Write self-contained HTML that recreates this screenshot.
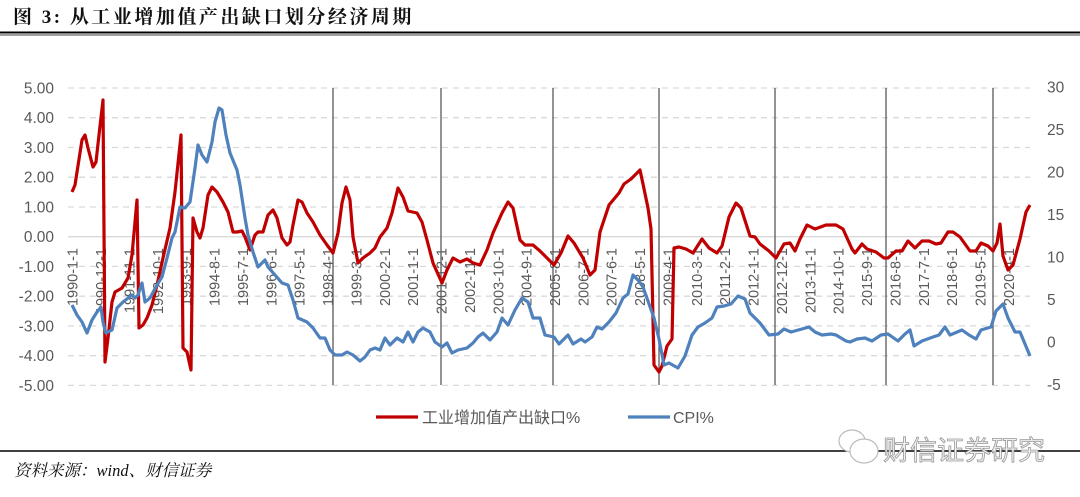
<!DOCTYPE html>
<html><head><meta charset="utf-8"><style>
html,body{margin:0;padding:0;background:#fff;}
svg{display:block;}
</style></head><body>
<svg width="1080" height="497" viewBox="0 0 1080 497" xmlns="http://www.w3.org/2000/svg">
<rect width="1080" height="497" fill="#fff"/>
<text x="13" y="23" font-family="Liberation Serif, Noto Serif CJK SC, serif" font-weight="bold" font-size="19" letter-spacing="2.5" fill="#111">图 3:  从工业增加值产出缺口划分经济周期</text>
<line x1="0" y1="32.5" x2="1080" y2="32.5" stroke="#000" stroke-width="2"/>
<line x1="0" y1="35" x2="1080" y2="35" stroke="#000" stroke-width="0.7"/>
<g stroke="#d9d9d9" stroke-width="1.3" stroke-dasharray="6,5">
<line x1="68" y1="88" x2="1030" y2="88"/><line x1="68" y1="117.7" x2="1030" y2="117.7"/>
<line x1="68" y1="147.5" x2="1030" y2="147.5"/><line x1="68" y1="177.2" x2="1030" y2="177.2"/>
<line x1="68" y1="207" x2="1030" y2="207"/>
<line x1="68" y1="266.4" x2="1030" y2="266.4"/><line x1="68" y1="296.2" x2="1030" y2="296.2"/>
<line x1="68" y1="325.9" x2="1030" y2="325.9"/><line x1="68" y1="355.7" x2="1030" y2="355.7"/>
<line x1="68" y1="385.4" x2="1030" y2="385.4"/>
</g>
<line x1="68" y1="236.7" x2="1030" y2="236.7" stroke="#d9d9d9" stroke-width="1.3"/>
<g stroke="#595959" stroke-width="1.3">
<line x1="333" y1="88" x2="333" y2="385"/><line x1="441" y1="88" x2="441" y2="385"/>
<line x1="553" y1="88" x2="553" y2="385"/><line x1="659" y1="88" x2="659" y2="385"/>
<line x1="775" y1="88" x2="775" y2="385"/><line x1="886" y1="88" x2="886" y2="385"/>
<line x1="993" y1="88" x2="993" y2="385"/>
</g>
<g font-family="Liberation Sans, sans-serif" font-size="15.5" fill="#595959" text-anchor="end">
<text x="54" y="93.5">5.00</text><text x="54" y="123.2">4.00</text><text x="54" y="153">3.00</text>
<text x="54" y="182.7">2.00</text><text x="54" y="212.5">1.00</text><text x="54" y="242.2">0.00</text>
<text x="54" y="271.9">-1.00</text><text x="54" y="301.7">-2.00</text><text x="54" y="331.4">-3.00</text>
<text x="54" y="361.2">-4.00</text><text x="54" y="390.9">-5.00</text>
</g>
<g font-family="Liberation Sans, sans-serif" font-size="15.5" fill="#595959" text-anchor="start">
<text x="1047" y="92.5">30</text><text x="1047" y="135">25</text><text x="1047" y="177.5">20</text>
<text x="1047" y="220">15</text><text x="1047" y="262.5">10</text><text x="1047" y="305">5</text>
<text x="1047" y="347.5">0</text><text x="1047" y="390">-5</text>
</g>
<g id="xl" font-family="Liberation Sans, sans-serif" font-size="14.5" fill="#595959" text-anchor="end"></g>
<polyline fill="none" stroke="#c00000" stroke-width="3.2" stroke-linejoin="round" points="72,192 75,185 82,140 85,135 88,148 93,167 96,162 99,135 103,100 105,362 108,338 112,302 115,292 122,288 128,278 132,255 137,200 139,328 143,325 147,318 152,305 157,285 163,258 170,228 175,192 181,135 183,348 187,352 191,370 193,218 197,232 200,238 203,228 208,195 212,187 217,192 223,202 228,212 233,232 237,232 242,231 245,237 250,250 255,235 258,232 263,232 268,215 273,210 277,218 282,238 287,245 290,242 293,225 298,200 302,202 307,213 313,222 320,235 327,245 333,253 338,233 342,203 346,187 350,200 353,237 358,263 363,258 370,253 375,248 380,237 387,228 392,213 398,188 403,197 408,211 417,213 422,222 427,240 433,263 442,283 447,270 453,258 460,262 467,259 473,263 480,265 487,250 493,233 502,213 508,202 513,208 520,240 525,245 533,245 540,251 554,265 561,253 568,236 574,243 583,258 590,275 595,270 600,232 609,205 619,193 624,184 631,179 640,170 643,184 648,208 651,229 654,365 659,372 662,366 667,346 672,339 674,248 679,247 686,249 693,253 702,239 709,248 717,253 722,246 729,217 736,203 741,208 750,236 755,237 760,244 769,251 776,258 784,244 790,243 795,251 800,239 807,225 815,229 826,225 836,225 843,229 852,249 855,253 862,244 867,249 876,252 884,258 888,258 896,251 902,251 908,241 915,248 922,241 929,241 936,244 941,243 948,232 953,232 960,237 970,251 976,251 981,243 988,246 993,251 997,243 1000,224 1003,256 1008,270 1013,265 1020,239 1026,212 1030,205"/>
<polyline fill="none" stroke="#4f81bd" stroke-width="3.2" stroke-linejoin="round" points="72,305 77,315 82,322 87,333 92,320 97,312 101,307 103,322 106,333 112,330 117,308 123,302 132,295 135,298 138,295 142,283 145,302 150,298 157,285 162,277 167,258 172,238 175,232 180,207 185,208 190,202 195,168 198,145 202,155 207,162 212,142 215,122 219,108 222,110 226,135 230,153 237,170 240,185 245,218 248,235 253,252 258,267 265,260 268,267 275,275 282,283 288,285 293,300 298,318 307,322 313,328 320,338 325,338 330,350 335,355 342,355 347,352 353,355 360,361 365,357 370,350 375,348 380,350 385,338 390,345 397,338 403,342 408,332 413,342 418,332 423,328 430,332 435,342 442,347 447,343 452,353 458,350 467,348 473,343 478,337 483,333 490,340 497,332 502,318 508,325 515,310 522,298 528,302 533,318 540,318 542,325 545,335 554,337 559,344 568,335 573,344 581,339 585,342 592,337 597,327 602,329 609,322 616,313 623,298 628,294 633,275 638,280 643,287 648,301 654,318 659,339 664,365 669,363 678,368 685,356 692,335 698,327 705,323 712,318 717,307 724,306 731,304 738,296 745,299 750,313 755,318 760,323 769,335 778,334 784,329 791,332 802,329 809,327 815,332 822,335 831,334 836,335 846,341 850,342 857,339 865,338 872,341 881,335 888,334 898,341 905,334 910,330 914,346 922,341 933,337 939,335 945,327 950,335 962,330 969,335 976,339 981,330 991,327 996,311 1003,304 1008,318 1015,332 1020,332 1030,356"/>
<line x1="376" y1="417" x2="418" y2="417" stroke="#c00000" stroke-width="3.2"/>
<text x="422" y="423" font-family="Liberation Sans, Noto Sans CJK SC, sans-serif" font-size="16" fill="#595959">工业增加值产出缺口%</text>
<line x1="628" y1="417" x2="670" y2="417" stroke="#4f81bd" stroke-width="3.2"/>
<text x="673" y="423" font-family="Liberation Sans, Noto Sans CJK SC, sans-serif" font-size="16" fill="#595959">CPI%</text>
<line x1="0" y1="451" x2="1080" y2="451" stroke="#000" stroke-width="1.5"/>
<text x="14" y="476" font-family="Liberation Serif, Noto Serif CJK SC, serif" font-style="italic" font-size="16.5" fill="#111">资料来源：wind、财信证券</text>
<g fill="#fff" stroke="#bbb" stroke-width="1.2">
<ellipse cx="852" cy="441" rx="13" ry="11"/>
<ellipse cx="864" cy="451" rx="14" ry="12"/>
</g>
<text x="883" y="460" font-family="Liberation Sans, Noto Sans CJK SC, sans-serif" font-size="27" fill="#f2f2f2" stroke="#999" stroke-width="0.8">财信证券研究</text>
</svg>
<script>
var labs=["1990-1-1","1990-12-1","1991-11-1","1992-10-1","1993-9-1","1994-8-1","1995-7-1","1996-6-1","1997-5-1","1998-4-1","1999-3-1","2000-2-1","2001-1-1","2001-12-1","2002-11-1","2003-10-1","2004-9-1","2005-8-1","2006-7-1","2007-6-1","2008-5-1","2009-4-1","2010-3-1","2011-2-1","2012-1-1","2012-12-1","2013-11-1","2014-10-1","2015-9-1","2016-8-1","2017-7-1","2018-6-1","2019-5-1","2020-4-1"];
var g=document.getElementById("xl"),ns="http://www.w3.org/2000/svg";
for(var i=0;i<labs.length;i++){var x=72.7+28.37*i+5;var t=document.createElementNS(ns,"text");
t.setAttribute("x",x);t.setAttribute("y",248);t.setAttribute("transform","rotate(-90 "+x+" 248)");t.textContent=labs[i];g.appendChild(t);}
</script>
</body></html>
